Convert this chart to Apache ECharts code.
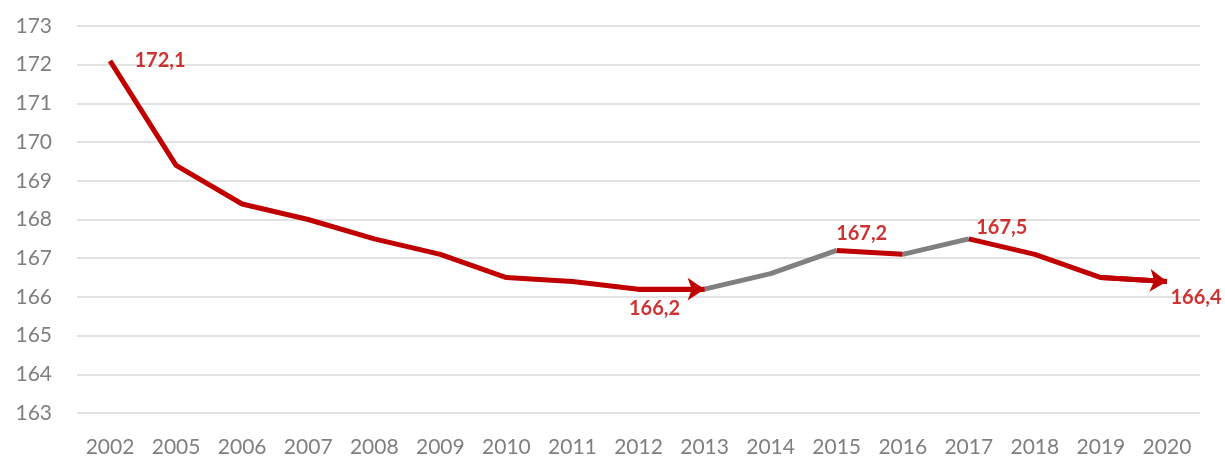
<!DOCTYPE html>
<html>
<head>
<meta charset="utf-8">
<script src="https://cdn.jsdelivr.net/npm/echarts@6/dist/echarts.min.js"></script>
<style>
  html, body { margin: 0; padding: 0; background: #fff; }
  #chart { width: 1225px; height: 459px; }
</style>
</head>
<body>
<div id="chart"></div>
<script>
/* data */
var years = ['2002', '2005', '2006', '2007', '2008', '2009', '2010', '2011', '2012',
    '2013', '2014', '2015', '2016', '2017', '2018', '2019', '2020'];
var values = [172.1, 169.4, 168.4, 168.0, 167.5, 167.1, 166.5, 166.4, 166.2,
    166.2, 166.6, 167.2, 167.1, 167.5, 167.1, 166.5, 166.4];
var labelYears = ['2002', '2012', '2015', '2017', '2020'];
var yTicks = [163, 173, 1]; // min, max, step

var RED = '#C00000';
var GREY = '#808080';
var LINE_W = 5;

// label offsets (px), style only
var labelOffset = {
    '2002': [50, 0],
    '2012': [16, 19],
    '2015': [25, -17],
    '2017': [33, -11],
    '2020': [29, 16]
};

// 从 from 到 to 的一段折线, 其余置空
function segment(from, to) {
    var arr = [];
    for (var i = 0; i < values.length; i++) {
        arr.push(i >= from && i <= to ? values[i] : null);
    }
    return arr;
}

function lineSeries(from, to, color) {
    return {
        type: 'line',
        data: segment(from, to),
        symbol: 'none',
        connectNulls: false,
        lineStyle: { color: color, width: LINE_W, cap: 'butt' },
        z: 3
    };
}

// 箭头: 最后一段上叠加带箭头的线
function arrowData(to) {
    return {
        coords: [[years[to - 1], values[to - 1]], [years[to], values[to]]]
    };
}

var labelData = [];
for (var i = 0; i < labelYears.length; i++) {
    var idx = years.indexOf(labelYears[i]);
    labelData.push({
        value: [years[idx], values[idx]],
        label: { offset: labelOffset[labelYears[i]] }
    });
}

var chart = echarts.init(document.getElementById('chart'));
var option = {
    animation: false,
    grid: { left: 77, right: 25, top: 26, bottom: 46 },
    xAxis: {
        type: 'category',
        data: years,
        boundaryGap: true,
        axisLine: { show: false },
        axisTick: { show: false },
        axisLabel: { color: '#7f7f7f', fontSize: 21, fontFamily: 'Lato', margin: 24 }
    },
    yAxis: {
        type: 'value',
        min: yTicks[0],
        max: yTicks[1],
        interval: yTicks[2],
        axisLine: { show: false },
        axisTick: { show: false },
        axisLabel: { color: '#7f7f7f', fontSize: 21, fontFamily: 'Lato', margin: 25 },
        splitLine: { lineStyle: { color: '#d9d9d9', width: 1.5 } }
    },
    series: [
        lineSeries(0, 9, RED),
        lineSeries(9, 11, GREY),
        lineSeries(11, 12, RED),
        lineSeries(12, 13, GREY),
        lineSeries(13, 16, RED),
        {
            type: 'lines',
            coordinateSystem: 'cartesian2d',
            symbol: ['none', 'arrow'],
            symbolSize: 17,
            silent: true,
            lineStyle: { color: RED, width: LINE_W, opacity: 1, curveness: 0 },
            data: [arrowData(9), arrowData(16)],
            z: 4
        },
        {
            type: 'scatter',
            symbolSize: 0,
            data: labelData,
            z: 5,
            label: {
                show: true,
                position: 'inside',
                color: RED,
                fontSize: 20,
                fontWeight: 'bold',
                fontFamily: 'Lato',
                formatter: function (p) {
                    return p.value[1].toFixed(1).replace('.', ',');
                }
            }
        }
    ]
};
chart.setOption(option);
</script>
</body>
</html>
